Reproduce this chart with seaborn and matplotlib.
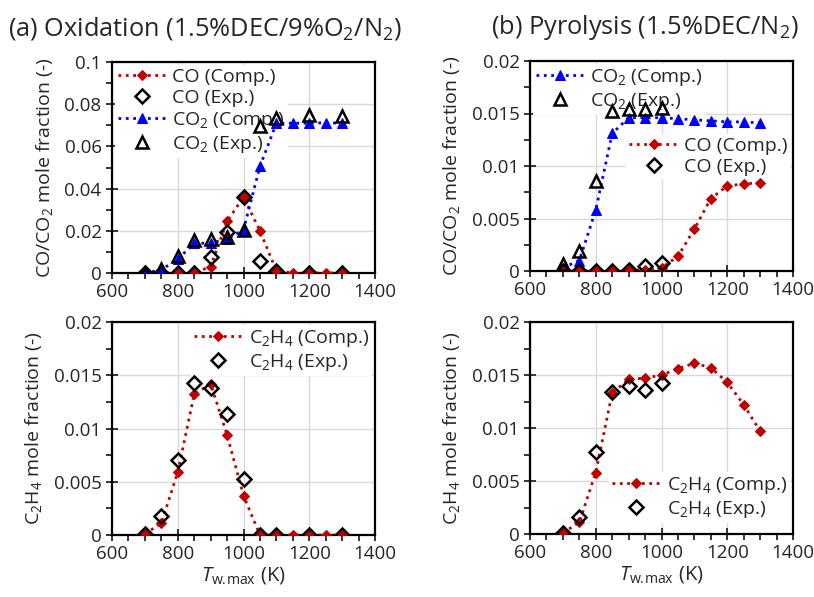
import numpy as np
import pandas as pd
import matplotlib
matplotlib.use("Agg")
import matplotlib.pyplot as plt
import seaborn as sns
from matplotlib.ticker import MultipleLocator, FuncFormatter

sns.set_style("white")
plt.rcParams['font.family'] = ['Open Sans', 'DejaVu Sans']
plt.rcParams['mathtext.fontset'] = 'custom'
plt.rcParams['mathtext.rm'] = 'Open Sans'
plt.rcParams['mathtext.it'] = 'Open Sans:italic'
plt.rcParams['mathtext.default'] = 'regular'

# temperatures (K)
T_comp = [700, 750, 800, 850, 900, 950, 1000, 1050, 1100, 1150, 1200, 1250, 1300]
T_exp_ox = [700, 750, 800, 850, 900, 950, 1000, 1050, 1100, 1200, 1300]
T_exp_py = [700, 750, 800, 850, 900, 950, 1000]

# (a) oxidation
ox_co_comp = [0, 0, 0, 0, 0.003, 0.0245, 0.036, 0.020, 0.001, 0, 0, 0, 0]
ox_co_exp = [0, 0, 0, 0, 0.0074, 0.0192, 0.036, 0.0055, 0.001, 0, 0]
ox_co2_comp = [0, 0.0015, 0.0066, 0.014, 0.0142, 0.016, 0.0205, 0.0505, 0.071, 0.071, 0.071, 0.0712, 0.071]
ox_co2_exp = [0, 0.002, 0.008, 0.0155, 0.016, 0.017, 0.0205, 0.0697, 0.0733, 0.0749, 0.0744]
ox_c2h4_comp = [0.0001, 0.0011, 0.0059, 0.0132, 0.0142, 0.0094, 0.0037, 0, 0, 0, 0, 0, 0]
ox_c2h4_exp = [0.0001, 0.0018, 0.007, 0.0143, 0.0138, 0.0114, 0.0053, 0, 0, 0, 0]

# (b) pyrolysis
py_co2_comp = [0.0003, 0.001, 0.0058, 0.0131, 0.0146, 0.0146, 0.0146, 0.0145, 0.0144, 0.0143, 0.0142, 0.0142, 0.0141]
py_co2_exp = [0.0007, 0.0019, 0.0086, 0.0152, 0.0154, 0.0154, 0.0155]
py_co_comp = [0, 0, 0, 0, 0.0001, 0.0001, 0.0003, 0.0014, 0.004, 0.0069, 0.0081, 0.0083, 0.0084]
py_co_exp = [0, 0, 0, 0, 0.0001, 0.0005, 0.0008]
py_c2h4_comp = [0.0001, 0.0011, 0.0058, 0.0133, 0.0146, 0.0147, 0.015, 0.0156, 0.0161, 0.0157, 0.0143, 0.0122, 0.0097]
py_c2h4_exp = [0.0001, 0.0016, 0.0077, 0.0134, 0.014, 0.0136, 0.0142]

RED = '#c00000'
BLUE = '#0000ff'
FS = 14


def comp(ax, x, y, color, marker, label):
    sns.lineplot(x=x, y=y, ax=ax, color=color, marker=marker, linestyle=':',
                 linewidth=2, markersize=5 if marker == 'D' else 6.5, markeredgecolor=color,
                 label=label, zorder=3)


def exp(ax, x, y, marker, label):
    sns.lineplot(x=x, y=y, ax=ax, color='black', marker=marker, linestyle='none',
                 markersize=7 if marker == 'D' else 9, markerfacecolor='none',
                 markeredgecolor='black', markeredgewidth=1.8, label=label, zorder=4)


def style(ax, ymax, ymajor, yminor, ylabel):
    ax.set_xlim(600, 1400)
    ax.set_ylim(0, ymax)
    ax.xaxis.set_major_locator(MultipleLocator(200))
    ax.xaxis.set_minor_locator(MultipleLocator(50))
    ax.yaxis.set_major_locator(MultipleLocator(ymajor))
    ax.yaxis.set_minor_locator(MultipleLocator(yminor))
    ax.yaxis.set_major_formatter(FuncFormatter(lambda v, p: '{:g}'.format(round(v, 6))))
    ax.grid(True, which='major', color='#d9d9d9', linewidth=1)
    ax.set_axisbelow(True)
    for s in ax.spines.values():
        s.set_color('black')
        s.set_linewidth(1.6)
    ax.tick_params(which='major', direction='inout', length=9, width=1.3, labelsize=13.5,
                   bottom=True, left=True, pad=3)
    ax.tick_params(which='minor', direction='out', length=4.5, width=1.3,
                   bottom=True, left=True)
    ax.set_ylabel(ylabel, fontsize=FS, labelpad=7)
    ax.set_xlabel('')


fig = plt.figure(figsize=(8.14, 5.97), dpi=100)
W, H = 814, 597


def axes_px(l, t, r, b):
    return fig.add_axes([l / W, 1 - b / H, (r - l) / W, (b - t) / H])


ax1 = axes_px(112, 62, 375, 273)
ax2 = axes_px(530, 61, 793, 271)
ax3 = axes_px(112, 322, 375, 535)
ax4 = axes_px(530, 322, 793, 534)

leg_kw = dict(fontsize=FS, frameon=True, facecolor='white', edgecolor='none', framealpha=1,
              handlelength=2.5, handletextpad=0.3, labelspacing=0.16, borderpad=0.15,
              borderaxespad=0.15, fancybox=False)


def put_legend(ax, *args, **kw):
    lg = ax.legend(*args, **leg_kw, **kw)
    lg.set_zorder(2.5)
    return lg


# (a) top
comp(ax1, T_comp, ox_co_comp, RED, 'D', 'CO (Comp.)')
exp(ax1, T_exp_ox, ox_co_exp, 'D', 'CO (Exp.)')
comp(ax1, T_comp, ox_co2_comp, BLUE, '^', 'CO$_2$ (Comp.)')
exp(ax1, T_exp_ox, ox_co2_exp, '^', 'CO$_2$ (Exp.)')
style(ax1, 0.1, 0.02, 0.01, 'CO/CO$_2$ mole fraction (-)')
put_legend(ax1, loc='upper left')

# (b) top
comp(ax2, T_comp, py_co2_comp, BLUE, '^', 'CO$_2$ (Comp.)')
exp(ax2, T_exp_py, py_co2_exp, '^', 'CO$_2$ (Exp.)')
comp(ax2, T_comp, py_co_comp, RED, 'D', 'CO (Comp.)')
exp(ax2, T_exp_py, py_co_exp, 'D', 'CO (Exp.)')
style(ax2, 0.02, 0.005, 0.0025, 'CO/CO$_2$ mole fraction (-)')
h, l = ax2.get_legend_handles_labels()
lg = put_legend(ax2, h[:2], l[:2], loc='upper left')
ax2.add_artist(lg)
put_legend(ax2, h[2:], l[2:], loc='center right', bbox_to_anchor=(1.0, 0.545))

# (a) bottom
comp(ax3, T_comp, ox_c2h4_comp, RED, 'D', 'C$_2$H$_4$ (Comp.)')
exp(ax3, T_exp_ox, ox_c2h4_exp, 'D', 'C$_2$H$_4$ (Exp.)')
style(ax3, 0.02, 0.005, 0.0025, 'C$_2$H$_4$ mole fraction (-)')
put_legend(ax3, loc='upper right')

# (b) bottom
comp(ax4, T_comp, py_c2h4_comp, RED, 'D', 'C$_2$H$_4$ (Comp.)')
exp(ax4, T_exp_py, py_c2h4_exp, 'D', 'C$_2$H$_4$ (Exp.)')
style(ax4, 0.02, 0.005, 0.0025, 'C$_2$H$_4$ mole fraction (-)')
put_legend(ax4, loc='lower right', bbox_to_anchor=(1.0, 0.04))

for ax in (ax3, ax4):
    ax.set_xlabel(r'$\mathit{T}_{\mathrm{w.\!max}}$ (K)', fontsize=14.5, labelpad=1)

fig.text(205 / W, 1 - 28 / H, '(a) Oxidation (1.5%DEC/9%O$_2$/N$_2$)', ha='center', va='center', fontsize=18.3)
fig.text(645 / W, 1 - 28 / H, '(b) Pyrolysis (1.5%DEC/N$_2$)', ha='center', va='center', fontsize=18.3)

fig.savefig('out.png', dpi=100)
